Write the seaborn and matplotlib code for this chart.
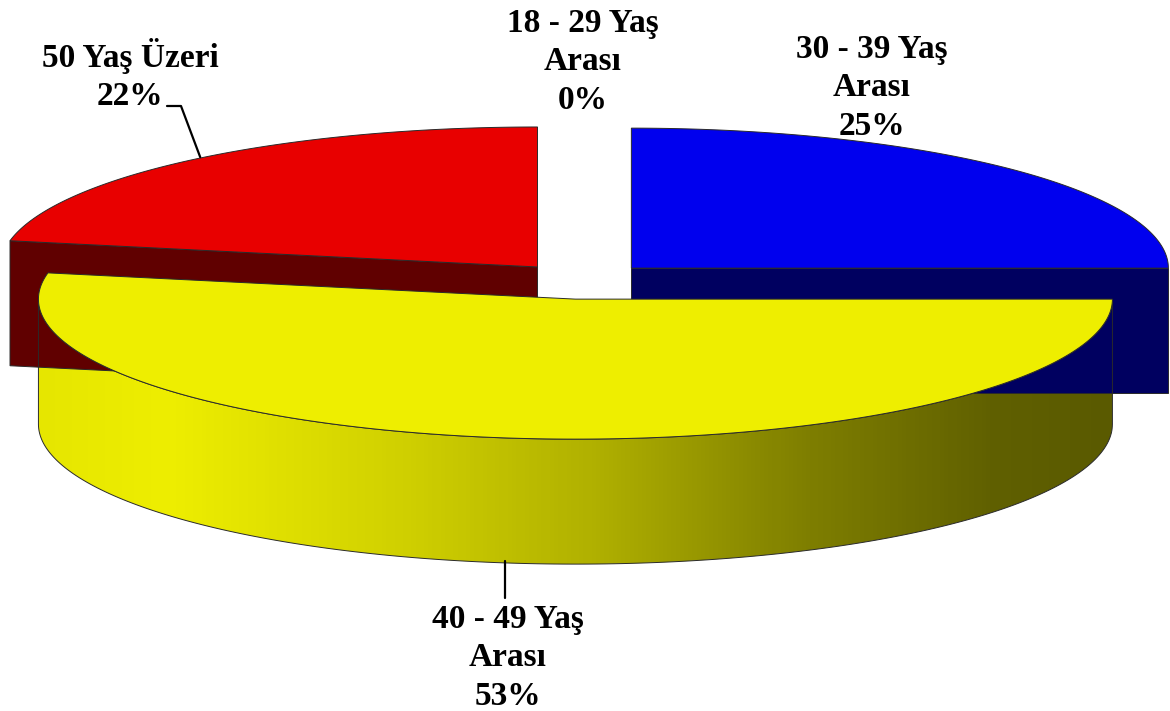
import numpy as np
import matplotlib.pyplot as plt
import seaborn as sns
from matplotlib.patches import Polygon
from matplotlib.colors import LinearSegmentedColormap

sns.set_theme(style="white")
plt.rcParams["font.family"] = ["Liberation Serif", "DejaVu Serif"]

# data (clockwise from 12 o'clock)
age_groups = ["18 - 29 Yaş\nArası", "30 - 39 Yaş\nArası", "40 - 49 Yaş\nArası", "50 Yaş Üzeri"]
shares = [0, 25, 53, 22]

# styles
top_colors = ["#ffffff", "#0000ee", "#eeee00", "#e80000"]
side_colors = ["#ffffff", "#000060", "gradient", "#600000"]
side_cmap = LinearSegmentedColormap.from_list(
    "yellow_side",
    [(0.0, "#e6e600"), (0.12, "#eeee00"), (0.34, "#d0d000"),
     (0.52, "#b0b000"), (0.71, "#808000"), (0.89, "#606000"), (1.0, "#5a5a00")],
)

# layout, in pixels of the 1170x711 canvas
W, H = 1170, 711
CX, CY = 582, 281
RX, RY = 537, 140
DEPTH = 125
EXPLODE = 0.13
EDGE = dict(edgecolor="#2a2a2a", linewidth=0.7)
label_pos = [(583, 62), (872, 88), (508, 658), (130, 75)]


def rim(cx, cy, th, dz=0.0):
    return cx + RX * np.sin(th), cy - RY * np.cos(th) + dz


def arc(cx, cy, a, b, dz=0.0, n=200):
    th = np.linspace(a, b, n)
    x, y = rim(cx, cy, th, dz)
    return np.column_stack([x, y])


fig = plt.figure(figsize=(W / 100, H / 100), dpi=100)
ax = fig.add_axes([0, 0, 1, 1])

fracs = np.array(shares, dtype=float) / sum(shares)
starts = np.concatenate([[0], np.cumsum(fracs)[:-1]]) * 2 * np.pi
ends = starts + fracs * 2 * np.pi

slices = []
for i, (a, b) in enumerate(zip(starts, ends)):
    mid = (a + b) / 2
    cx = CX + EXPLODE * RX * np.sin(mid)
    cy = CY - EXPLODE * RY * np.cos(mid)
    slices.append((cy, i, a, b, cx, mid))

# back slices first
for cy, i, a, b, cx, mid in sorted(slices):
    if b - a <= 0:
        continue
    apex = np.array([[cx, cy]])

    # radial walls that face the viewer
    for th, sign in ((a, -1), (b, 1)):
        normal_y = np.cos(th + sign * np.pi / 2)
        if normal_y < -1e-6 and side_colors[i] != "gradient":
            rx_, ry_ = rim(cx, cy, th)
            wall = np.array([[cx, cy], [rx_, ry_], [rx_, ry_ + DEPTH], [cx, cy + DEPTH]])
            ax.add_patch(Polygon(wall, closed=True, facecolor=side_colors[i], **EDGE))

    # outer curved wall (front half only)
    lo, hi = max(a, np.pi / 2), min(b, 3 * np.pi / 2)
    if hi > lo:
        top = arc(cx, cy, lo, hi)
        bottom = arc(cx, cy, lo, hi, DEPTH)[::-1]
        poly = np.vstack([top, bottom])
        if side_colors[i] == "gradient":
            patch = Polygon(poly, closed=True, facecolor="none", **EDGE)
            ax.add_patch(patch)
            grad = np.linspace(0, 1, 256).reshape(1, -1)
            x0, x1 = poly[:, 0].min(), poly[:, 0].max()
            y0, y1 = poly[:, 1].min(), poly[:, 1].max()
            img = ax.imshow(grad, cmap=side_cmap, aspect="auto",
                            extent=(x0, x1, y1, y0), zorder=patch.get_zorder() - 0.1)
            img.set_clip_path(patch)
        else:
            ax.add_patch(Polygon(poly, closed=True, facecolor=side_colors[i], **EDGE))

    # top face
    face = np.vstack([apex, arc(cx, cy, a, b), apex])
    ax.add_patch(Polygon(face, closed=True, facecolor=top_colors[i], **EDGE))

# labels
text_kw = dict(ha="center", va="center", fontsize=24, fontweight="bold",
               color="black", linespacing=1.3)
for name, share, (lx, ly) in zip(age_groups, shares, label_pos):
    ax.text(lx, ly, f"{name}\n{share}%", **text_kw)

# leader lines
red = [s for s in slices if s[1] == 3][0]
rx_, ry_ = rim(red[4], red[0], red[5])
ax.plot([167, 181, rx_ + 5], [106, 106, ry_ - 2], color="black", lw=1.6)
ax.plot([505, 505], [561, 598], color="black", lw=1.6)

ax.set_xlim(0, W)
ax.set_ylim(H, 0)
ax.axis("off")
fig.savefig("out.png", dpi=100, facecolor="white")
